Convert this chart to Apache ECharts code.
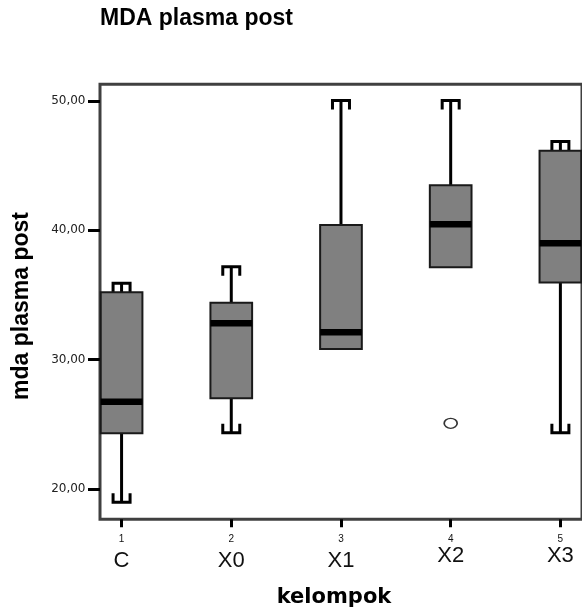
<!DOCTYPE html>
<html><head><meta charset="utf-8">
<script src="https://cdn.jsdelivr.net/npm/echarts@6/dist/echarts.min.js"></script>
<style>html,body{margin:0;padding:0;background:#fff}#c{width:582px;height:609px}</style>
</head><body><div id="c"></div>
<script>
// ---- data ----
const categories = ['C', 'X0', 'X1', 'X2', 'X3'];
const groupCodes = [1, 2, 3, 4, 5];
const whiskerLow = [18.97, 24.35, 30.83, 37.15, 24.35];
const q1 = [24.31, 27.01, 30.83, 37.15, 35.96];
const median = [26.75, 32.81, 32.12, 40.47, 39.00];
const q3 = [35.21, 34.41, 40.42, 43.49, 46.16];
const whiskerHigh = [35.91, 37.19, 50.03, 50.03, 46.86];
const outlierGroup = [4];
const outlierValue = [25.08];
const yTicks = [20, 30, 40, 50];
const raisedLabels = ['X2', 'X3'];

const boxData = groupCodes.map((g, i) => [g, whiskerLow[i], q1[i], median[i], q3[i], whiskerHigh[i]]);
const outlierData = outlierGroup.map((g, i) => [g, outlierValue[i]]);

const chart = echarts.init(document.getElementById('c'), null, { renderer: 'canvas' });

function renderBox(params, api) {
  const x = api.value(0);
  const lo = api.coord([x, api.value(1)]);
  const b1 = api.coord([x, api.value(2)]);
  const md = api.coord([x, api.value(3)]);
  const b3 = api.coord([x, api.value(4)]);
  const hi = api.coord([x, api.value(5)]);
  const left = api.coord([x - 0.19, 0])[0];
  const right = api.coord([x + 0.19, 0])[0];
  const cx = lo[0];
  const capHalf = 8.5, leg = 9;
  const ls = { stroke: '#000', lineWidth: 3, fill: null };
  const children = [];
  if (hi[1] < b3[1] - 0.5) {
    children.push({ type: 'line', shape: { x1: cx, y1: b3[1], x2: cx, y2: hi[1] }, style: ls });
    children.push({ type: 'polyline', shape: { points: [[cx - capHalf, hi[1] + leg], [cx - capHalf, hi[1]], [cx + capHalf, hi[1]], [cx + capHalf, hi[1] + leg]] }, style: ls });
  }
  if (lo[1] > b1[1] + 0.5) {
    children.push({ type: 'line', shape: { x1: cx, y1: b1[1], x2: cx, y2: lo[1] }, style: ls });
    children.push({ type: 'polyline', shape: { points: [[cx - capHalf, lo[1] - leg], [cx - capHalf, lo[1]], [cx + capHalf, lo[1]], [cx + capHalf, lo[1] - leg]] }, style: ls });
  }
  children.push({ type: 'rect', shape: { x: left, y: b3[1], width: right - left, height: b1[1] - b3[1] }, style: { fill: '#808080', stroke: '#1a1a1a', lineWidth: 2 } });
  children.push({ type: 'line', shape: { x1: left, y1: md[1], x2: right, y2: md[1] }, style: { stroke: '#000', lineWidth: 6.5 } });
  return { type: 'group', children: children };
}

const option = {
  animation: false,
  backgroundColor: '#fff',
  title: {
    text: 'MDA plasma post', left: 100, top: 7, padding: 0,
    textStyle: { fontFamily: 'Liberation Sans', fontWeight: 'bold', fontSize: 23, color: '#000' }
  },
  grid: { left: 100, top: 84.2, right: -3, bottom: 89.8, show: true, borderColor: '#404040', borderWidth: 3, backgroundColor: 'transparent' },
  xAxis: {
    type: 'value', min: 0.8034, max: 5.197,
    axisLine: { show: false }, splitLine: { show: false },
    axisTick: { show: true, customValues: groupCodes, length: 8, lineStyle: { color: '#000', width: 3 } },
    axisLabel: {
      customValues: groupCodes, margin: 13.6, color: '#111',
      formatter: function (v) {
        const i = groupCodes.indexOf(Math.round(v));
        const name = categories[i];
        const st = raisedLabels.indexOf(name) >= 0 ? 'cu' : 'c';
        return '{n|' + groupCodes[i] + '}\n{' + st + '|' + name + '}';
      },
      rich: {
        n: { fontFamily: 'Liberation Sans', fontSize: 10, lineHeight: 12, color: '#111' },
        c: { fontFamily: 'Liberation Sans', fontSize: 22, lineHeight: 33, color: '#111' },
        cu: { fontFamily: 'Liberation Sans', fontSize: 22, lineHeight: 23, color: '#111' }
      }
    }
  },
  yAxis: {
    type: 'value', min: 17.665, max: 51.3,
    axisLine: { show: false }, splitLine: { show: false },
    axisTick: { show: true, customValues: yTicks, length: 12, lineStyle: { color: '#000', width: 3 } },
    axisLabel: {
      customValues: yTicks, margin: 14.5, color: '#222',
      fontFamily: 'DejaVu Sans', fontSize: 12,
      formatter: function (v) { return v.toFixed(2).replace('.', ','); }
    }
  },
  graphic: [
    { type: 'text', x: 22, y: 306, rotation: Math.PI / 2,
      style: { text: 'mda plasma post', font: 'bold 23px "Liberation Sans"', fill: '#000', textAlign: 'center', textVerticalAlign: 'middle', align: 'center', verticalAlign: 'middle' } },
    { type: 'text', x: 334, y: 598,
      style: { text: 'kelompok', font: 'bold 21px "DejaVu Sans"', fill: '#000', textAlign: 'center', textVerticalAlign: 'middle', align: 'center', verticalAlign: 'middle' } }
  ],
  series: [
    {
      type: 'custom', renderItem: renderBox, data: boxData,
      encode: { x: 0, y: [1, 2, 3, 4, 5] }, clip: false, z: 2
    },
    {
      type: 'scatter', data: outlierData, symbol: 'circle', symbolSize: [13, 10],
      itemStyle: { color: '#fff', borderColor: '#000', borderWidth: 1.5 }, z: 3
    }
  ]
};
chart.setOption(option);
</script>
</body></html>
